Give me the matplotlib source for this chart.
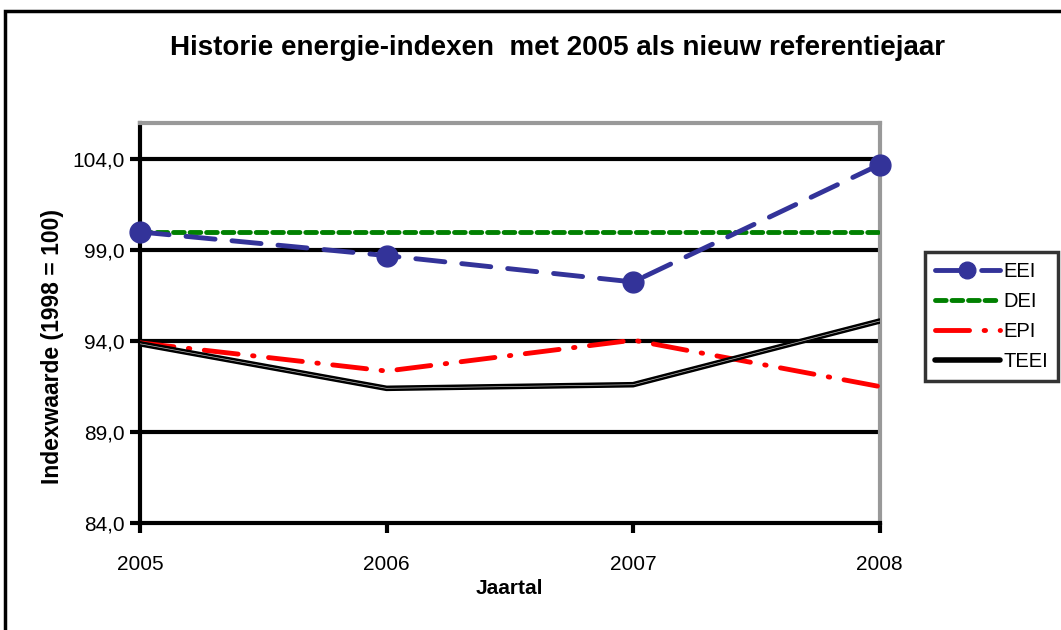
import matplotlib
matplotlib.use("Agg")
import matplotlib.pyplot as plt
from matplotlib.patches import Rectangle
from matplotlib.ticker import FuncFormatter

plt.rcParams['font.family'] = ['Liberation Sans', 'DejaVu Sans']

years = [2005, 2006, 2007, 2008]
eei = [100.0, 98.7, 97.25, 103.7]
dei = [100.0, 100.0, 100.0, 100.0]
epi = [93.9, 92.35, 94.05, 91.5]
teei = [93.85, 91.4, 91.6, 95.1]
yticks = [84, 89, 94, 99, 104]

fig = plt.figure(figsize=(10.61, 6.3), dpi=100)
ax = fig.add_axes([0.132, 0.170, 0.697, 0.635])

# outer chart frame
fig.patches.append(Rectangle((5/1061, -0.1), 1.2, 1 - 5/630 + 0.1 - 6/630,
                             transform=fig.transFigure, fill=False,
                             edgecolor='black', linewidth=2.5))

for y in yticks[1:]:
    ax.axhline(y, color='black', lw=3, zorder=1)

ax.plot(years, dei, color='#008000', lw=3.5, dashes=(2.2, 1.2),
        dash_capstyle='round', label='DEI', zorder=3)
ax.plot(years, eei, color='#333399', lw=3.5, dashes=(6, 3.5),
        dash_capstyle='round', marker='o', markersize=15, label='EEI',
        zorder=4, clip_on=False)
ax.plot(years, epi, color='red', lw=3.5, dashes=(7, 3, 0.3, 3),
        dash_capstyle='round', label='EPI', zorder=3)
ax.plot(years, teei, color='black', lw=4, solid_capstyle='round', label='TEEI', zorder=3)
ax.plot(years, teei, color='#bbbbbb', lw=0.5, zorder=3)

ax.set_xlim(2005, 2008)
ax.set_ylim(84, 106)
ax.set_xticks(years)
ax.set_yticks(yticks)
ax.yaxis.set_major_formatter(FuncFormatter(lambda v, p: f"{v:.1f}".replace('.', ',')))
ax.tick_params(axis='both', labelsize=15, width=3, length=7, direction='out')
ax.tick_params(axis='x', pad=16)
ax.tick_params(axis='y', pad=4)

for s in ['left', 'bottom']:
    ax.spines[s].set_linewidth(3)
    ax.spines[s].set_color('black')
for s in ['top', 'right']:
    ax.spines[s].set_linewidth(3)
    ax.spines[s].set_color('#999999')

ax.set_xlabel('Jaartal', fontsize=15, fontweight='bold', labelpad=4)
fig.text(53/1061, 1 - 347/630, 'Indexwaarde (1998 = 100)', rotation=90,
         ha='center', va='center', fontsize=16.5, fontweight='bold')
fig.text(0.525, 0.924, 'Historie energie-indexen  met 2005 als nieuw referentiejaar',
         ha='center', va='center', fontsize=20, fontweight='bold')

handles, labels = ax.get_legend_handles_labels()
order = [1, 0, 2, 3]
leg = fig.legend([handles[i] for i in order], [labels[i] for i in order],
                 loc='upper left', bbox_to_anchor=(925/1061, 1 - 252/630),
                 fontsize=14.5, frameon=True, fancybox=False, handlelength=3.2,
                 handletextpad=0.2, borderpad=0.5, labelspacing=0.55,
                 borderaxespad=0)
leg.get_frame().set_edgecolor('black')
leg.get_frame().set_linewidth(2.5)
for lh in leg.legend_handles:
    if lh.get_label() == 'EEI':
        lh.set_markersize(12)

fig.savefig('out.png', dpi=100)
